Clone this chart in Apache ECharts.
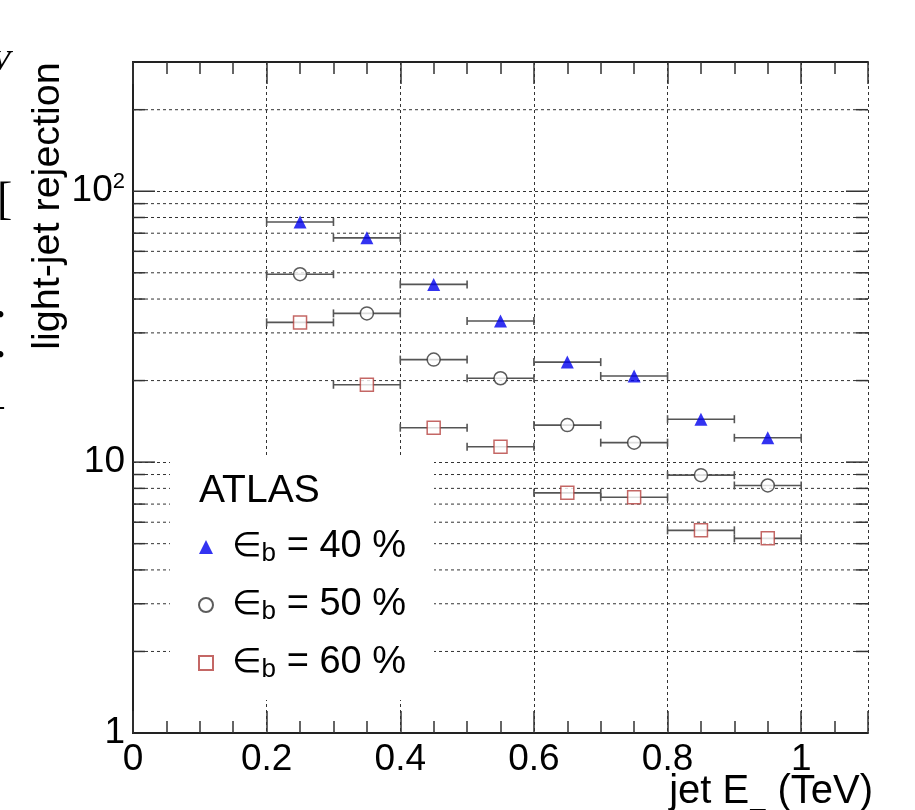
<!DOCTYPE html>
<html><head><meta charset="utf-8">
<script src="https://cdn.jsdelivr.net/npm/echarts@6/dist/echarts.min.js"></script>
<style>html,body{margin:0;padding:0;background:#fff}#c{width:915px;height:810px}</style>
</head><body><div id="c"></div>
<script>
// ---- data ----
const binCenters = [0.25, 0.35, 0.45, 0.55, 0.65, 0.75, 0.85, 0.95];
const binHalfWidth = 0.05;
const rej40 = [77, 67.3, 45.3, 33.2, 23.4, 20.8, 14.4, 12.3];
const rej50 = [49.4, 35.4, 23.9, 20.4, 13.7, 11.8, 8.95, 8.2];
const rej60 = [32.8, 19.3, 13.4, 11.4, 7.7, 7.42, 5.6, 5.23];
const effLabels = ['40', '50', '60'];
const seriesNames = ['\u2208b = 40 %', '\u2208b = 50 %', '\u2208b = 60 %'];
const xTickLabels = ['0', '0.2', '0.4', '0.6', '0.8', '1'];
const yMajorTicks = [10, 100];
const yMinorGrid = [2, 3, 4, 5, 6, 7, 8, 9, 20, 30, 40, 50, 60, 70, 80, 90, 200];
const xMin = 0, xMax = 1.1, yMin = 1, yMax = 300;

const FONT = '"Liberation Sans", Arial, Helvetica, sans-serif';
const chart = echarts.init(document.getElementById('c'), null, {renderer: 'canvas'});

const toPts = vals => binCenters.map((c, i) => [c, vals[i]]);
const errData = [];
[rej40, rej50, rej60].forEach(vals => binCenters.forEach((c, i) => errData.push([c - binHalfWidth, c + binHalfWidth, vals[i]])));

const axisLineStyle = {color: '#222', width: 2};
const tickStyle = {color: '#333', width: 1.5};

// horizontal helper lines (grid + inner ticks on both vertical axes), placed through the axis scale
const hLineSeries = (name, values, tickLen, withGrid) => ({
  type: 'custom', name, xAxisIndex: 0, yAxisIndex: 0, z: 1, silent: true, clip: false,
  data: values.map(v => [xMin, v]),
  renderItem: (params, api) => {
    const v = api.value(1);
    const p0 = api.coord([xMin, v]);
    const p1 = api.coord([xMax, v]);
    const kids = [
      {type: 'line', shape: {x1: p0[0], y1: p0[1], x2: p0[0] + tickLen, y2: p0[1]}, style: {stroke: '#333', lineWidth: 1.5}},
      {type: 'line', shape: {x1: p1[0] - tickLen, y1: p1[1], x2: p1[0], y2: p1[1]}, style: {stroke: '#333', lineWidth: 1.5}}
    ];
    if (withGrid) kids.unshift({type: 'line', shape: {x1: p0[0], y1: p0[1], x2: p1[0], y2: p1[1]}, style: {stroke: '#333', lineWidth: 1, lineDash: [3, 3]}});
    return {type: 'group', children: kids};
  }
});

const option = {
  backgroundColor: '#fff',
  animation: false,
  grid: {left: 133, top: 62, right: 47, bottom: 77, containLabel: false, outerBoundsMode: 'none'},
  xAxis: [{
    type: 'value', min: xMin, max: xMax, interval: 0.2, position: 'bottom',
    axisLine: {show: true, lineStyle: axisLineStyle},
    axisTick: {show: true, inside: true, length: 22, lineStyle: tickStyle},
    minorTick: {show: true, splitNumber: 4, length: 12, lineStyle: tickStyle},
    splitLine: {show: true, lineStyle: {type: [3, 3], color: '#333', width: 1}},
    axisLabel: {
      margin: 8, fontSize: 37, fontFamily: FONT, color: '#000', showMaxLabel: false,
      formatter: v => { const k = Math.round(v / 0.2); return Math.abs(v - k * 0.2) < 1e-6 && k < xTickLabels.length ? xTickLabels[k] : ''; }
    }
  }, {
    type: 'value', min: xMin, max: xMax, interval: 0.2, position: 'top',
    axisLine: {show: true, lineStyle: axisLineStyle},
    axisTick: {show: true, inside: true, length: 22, lineStyle: tickStyle},
    minorTick: {show: true, splitNumber: 4, length: 12, lineStyle: tickStyle},
    splitLine: {show: false}, axisLabel: {show: false}
  }],
  yAxis: [{
    type: 'log', logBase: 10, min: yMin, max: yMax, position: 'left',
    axisLine: {show: true, lineStyle: axisLineStyle},
    axisTick: {show: false},
    splitLine: {show: true, lineStyle: {type: [3, 3], color: '#333', width: 1}},
    axisLabel: {
      margin: 8, color: '#000', showMaxLabel: false,
      formatter: v => {
        if (Math.abs(v - 100) < 1e-6) return '{b|10}{s|2}';
        if (Math.abs(v - 10) < 1e-6) return '{b|10}';
        if (Math.abs(v - 1) < 1e-6) return '{b|1}';
        return '';
      },
      rich: {
        b: {fontSize: 37, fontFamily: FONT, color: '#000', lineHeight: 40},
        s: {fontSize: 22, fontFamily: FONT, color: '#000', lineHeight: 22, verticalAlign: 'top'}
      }
    }
  }, {
    type: 'log', logBase: 10, min: yMin, max: yMax, position: 'right',
    axisLine: {show: true, lineStyle: axisLineStyle},
    axisTick: {show: false},
    splitLine: {show: false}, axisLabel: {show: false}
  }],
  legend: {
    orient: 'vertical', left: 193, top: 523, itemGap: 19, itemWidth: 14, itemHeight: 14,
    z: 10, selectedMode: false,
    data: seriesNames,
    formatter: name => {
      const i = seriesNames.indexOf(name);
      return '{e|\u2208}{s|b}{t| = ' + effLabels[i] + ' %}';
    },
    textStyle: {
      fontSize: 37, fontFamily: FONT, color: '#000',
      rich: {
        e: {fontSize: 34, fontFamily: '"DejaVu Sans", sans-serif', color: '#000', lineHeight: 40, padding: [0, 0, 0, 14]},
        s: {fontSize: 26, fontFamily: FONT, color: '#000', lineHeight: 10, verticalAlign: 'bottom'},
        t: {fontSize: 38, fontFamily: FONT, color: '#000', lineHeight: 40}
      }
    }
  },
  graphic: [
    {type: 'rect', shape: {x: 170, y: 458, width: 264, height: 242}, style: {fill: '#fff'}, z: 5, silent: true},
    {type: 'text', x: 199, y: 491, z: 6, style: {text: 'ATLAS', font: '39px ' + FONT, fill: '#000', verticalAlign: 'middle'}},
    {type: 'text', x: 48, y: 206, rotation: Math.PI / 2, z: 6,
      style: {text: 'light-jet rejection', font: '39.5px ' + FONT, fill: '#000', align: 'center', verticalAlign: 'middle'}},
    {type: 'text', x: 873, y: 772, z: 6,
      style: {
        text: '{m|jet E}{s|T}{m| (TeV)}', align: 'right', verticalAlign: 'top',
        rich: {
          m: {fontSize: 40, fontFamily: FONT, fill: '#000', lineHeight: 40, verticalAlign: 'top'},
          s: {fontSize: 28, fontFamily: FONT, fill: '#000', lineHeight: 28, padding: [34, 0, 0, 0], verticalAlign: 'top'}
        }
      }},
    // cropped fragments of a neighbouring figure at the left edge
    {type: 'text', x: -9, y: 62, z: 6, style: {text: 'V', font: 'italic bold 30px "Liberation Serif", serif', fill: '#000', verticalAlign: 'middle'}},
    {type: 'text', x: -3, y: 202, z: 6, style: {text: '[', font: '46px "Liberation Serif", serif', fill: '#000', verticalAlign: 'middle'}},
    {type: 'text', x: -4, y: 316, z: 6, style: {text: '\u2022', font: 'bold 24px "Liberation Serif", serif', fill: '#000', verticalAlign: 'middle'}},
    {type: 'text', x: -4, y: 356, z: 6, style: {text: '\u2022', font: 'bold 24px "Liberation Serif", serif', fill: '#000', verticalAlign: 'middle'}},
    {type: 'text', x: -3, y: 408, z: 6, style: {text: '-', font: 'bold 24px "Liberation Serif", serif', fill: '#000', verticalAlign: 'middle'}}
  ],
  series: [
    hLineSeries('minorGrid', yMinorGrid, 12, true),
    hLineSeries('majorTicks', yMajorTicks, 22, false),
    {
      type: 'custom', name: 'errors', xAxisIndex: 0, yAxisIndex: 0, z: 2, silent: true,
      data: errData, encode: {x: [0, 1], y: 2},
      renderItem: (params, api) => {
        const y = api.value(2);
        const a = api.coord([api.value(0), y]);
        const b = api.coord([api.value(1), y]);
        const st = {stroke: '#555', lineWidth: 1.6};
        return {type: 'group', children: [
          {type: 'line', shape: {x1: a[0], y1: a[1], x2: b[0], y2: b[1]}, style: st},
          {type: 'line', shape: {x1: a[0], y1: a[1] - 4, x2: a[0], y2: a[1] + 4}, style: st},
          {type: 'line', shape: {x1: b[0], y1: b[1] - 4, x2: b[0], y2: b[1] + 4}, style: st}
        ]};
      }
    },
    {
      type: 'scatter', name: seriesNames[0], z: 3, data: toPts(rej40),
      symbol: 'triangle', symbolSize: 13, itemStyle: {color: '#0000ee'}
    },
    {
      type: 'scatter', name: seriesNames[1], z: 3, data: toPts(rej50),
      symbol: 'circle', symbolSize: 13, itemStyle: {color: '#fff', borderColor: '#333', borderWidth: 1.5}
    },
    {
      type: 'scatter', name: seriesNames[2], z: 3, data: toPts(rej60),
      symbol: 'rect', symbolSize: 13, itemStyle: {color: '#fff', borderColor: '#b5413f', borderWidth: 1.5}
    }
  ]
};
chart.setOption(option);
</script>
</body></html>
